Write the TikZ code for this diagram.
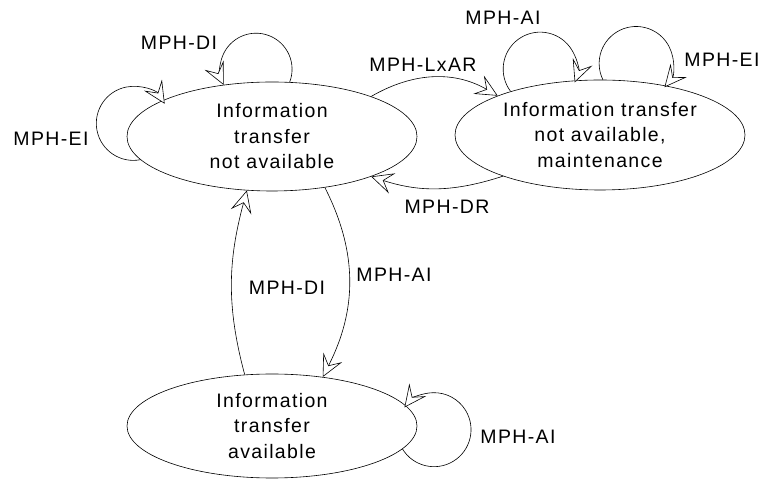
\documentclass[tikz,border=0pt]{standalone}
\usepackage{fontspec}
\setmainfont{Liberation Sans}[LetterSpace=7]
\usetikzlibrary{arrows.meta,shapes.geometric}
\begin{document}
\begin{tikzpicture}[x=1pt,y=1pt,
  state/.style={draw,ellipse,line width=0.6pt,inner sep=0pt,align=center,
    font=\fontsize{19.5}{25.5}\selectfont},
  lbl/.style={inner sep=0pt,font=\fontsize{19.5}{22}\selectfont},
  arr/.style={line width=0.6pt,-{Stealth[open,length=22pt,width=21pt,inset=9pt,fill=white,line width=0.6pt]}}]
\useasboundingbox (0,0) rectangle (767,481);
\node[state,minimum width=290pt,minimum height=109pt] (e1) at (272,344.5) {Information\\transfer\\not available};
\node[state,minimum width=290pt,minimum height=110pt] (e2) at (600,346) {Information transfer\\not available,\\maintenance};
\node[state,minimum width=290pt,minimum height=104pt] (e3) at (272,55) {Information\\transfer\\available};
% self loops
\draw[arr] (e1.72) arc[start angle=-21,end angle=206,radius=36];
\draw[arr] (e1.190) arc[start angle=-79,end angle=-328,radius=37];
\draw[arr] (e2.154) arc[start angle=217,end angle=-21,radius=37];
\draw[arr] (e2.87) arc[start angle=206,end angle=-40,radius=37];
\draw[arr] (e3.-10) arc[start angle=211.5,end angle=503,radius=37];
% transitions
\draw[arr] (e1.22) to[out=30,in=150] (e2.159);
\draw[arr] (e2.203) to[out=198,in=-18] (e1.-22);
\draw[arr] (e1.-44) to[out=-63,in=63] (e3.44);
\draw[arr] (e3.118) to[out=105,in=-105] (e1.-115);
% labels
\node[lbl] (l1) at (179,438) {MPH-DI};
\node[lbl] (l2) at (51,342) {MPH-EI};
\node[lbl] (l3) at (423,416) {MPH-LxAR};
\node[lbl] (l4) at (503,463) {MPH-AI};
\node[lbl] (l5) at (722,421) {MPH-EI};
\node[lbl] (l6) at (447,274) {MPH-DR};
\node[lbl] (l7) at (394,206) {MPH-AI};
\node[lbl] (l8) at (287,193) {MPH-DI};
\node[lbl] (l9) at (518,44) {MPH-AI};
\end{tikzpicture}
\end{document}
